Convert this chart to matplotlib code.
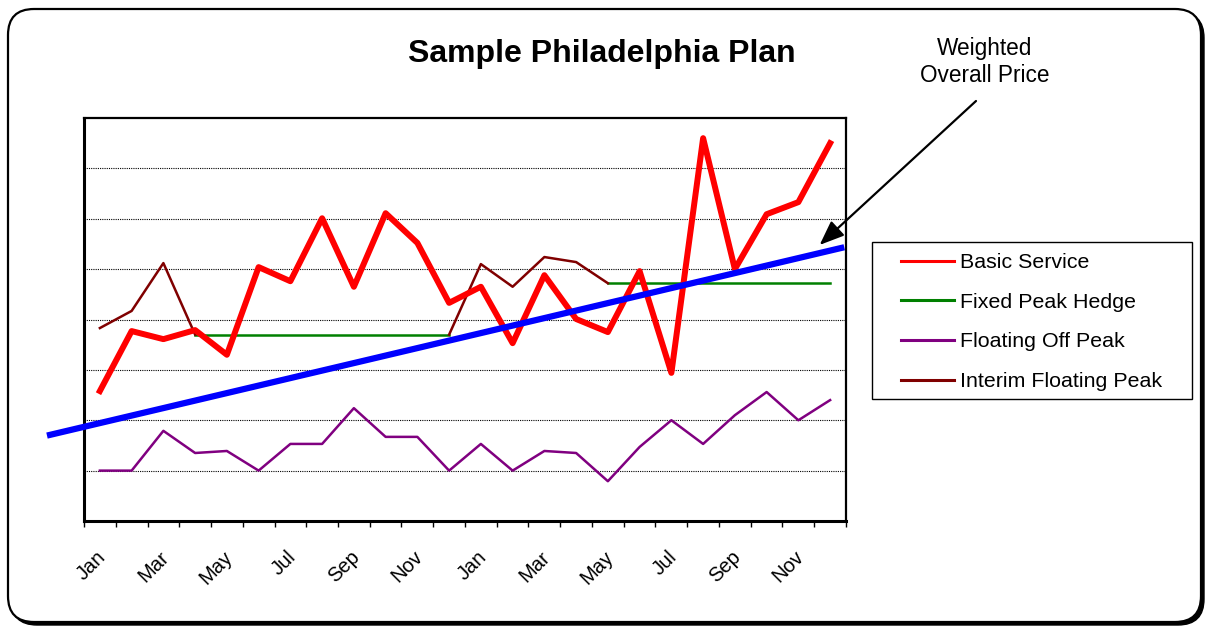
import numpy as np
import matplotlib
matplotlib.use("Agg")
import matplotlib.pyplot as plt
import matplotlib.transforms as mtransforms
from matplotlib.lines import Line2D
from matplotlib.patches import FancyBboxPatch, Rectangle

plt.rcParams["font.family"] = ["Liberation Sans", "DejaVu Sans"]

# 24 months, two years
months = ["Jan", "Feb", "Mar", "Apr", "May", "Jun",
          "Jul", "Aug", "Sep", "Oct", "Nov", "Dec"] * 2

basic_service = [2.58, 3.77, 3.61, 3.79, 3.30, 5.04, 4.76, 6.01, 4.65, 6.11, 5.52, 4.33,
                 4.65, 3.53, 4.88, 4.01, 3.75, 4.96, 2.94, 7.60, 5.00, 6.09, 6.33, 7.50]

# fixed hedge only runs Apr-Dec year 1 and Jun-Dec year 2
fixed_peak = [np.nan] * 3 + [3.70] * 9 + [np.nan] * 4 + [4.72] * 8

floating_off = [1.00, 1.00, 1.79, 1.35, 1.39, 1.00, 1.53, 1.53, 2.24, 1.67, 1.67, 1.00,
                1.53, 1.00, 1.39, 1.35, 0.79, 1.47, 2.00, 1.53, 2.10, 2.56, 2.00, 2.40]

interim_peak = [3.83, 4.17, 5.12, 3.70] + [np.nan] * 7 + [3.70, 5.10, 4.65, 5.24, 5.14, 4.72] + [np.nan] * 7

# weighted overall price trend (start / end)
weighted_x = [-1.57, 23.35]
weighted_price = [1.71, 5.42]

fig = plt.figure(figsize=(12.09, 6.3), dpi=100)

# rounded frame with a small shadow, pixel coords
bg = fig.add_axes([0, 0, 1, 1], zorder=-5)
bg.set_xlim(0, 1209)
bg.set_ylim(630, 0)
bg.axis("off")
bg.add_patch(FancyBboxPatch((11, 12), 1193, 613, boxstyle="round,pad=0,rounding_size=26",
                            fc="black", ec="black", lw=1))
bg.add_patch(FancyBboxPatch((8, 9), 1193, 613, boxstyle="round,pad=0,rounding_size=26",
                            fc="white", ec="black", lw=1.6))
# legend frame
bg.add_patch(Rectangle((872, 242), 320, 157, fc="white", ec="black", lw=1.0))

ax = fig.add_axes([84 / 1209, 1 - 521 / 630, 762 / 1209, 403 / 630])
x = np.arange(len(months))

ax.plot(x, basic_service, color="#FF0000", lw=4.3, zorder=4)
ax.plot(x, fixed_peak, color="#008000", lw=1.8, zorder=3)
ax.plot(x, floating_off, color="#800080", lw=1.8, zorder=3)
ax.plot(x, interim_peak, color="#800000", lw=1.8, zorder=3)
ax.plot(weighted_x, weighted_price, color="#0000FF", lw=4.5, clip_on=False, zorder=5)

ax.set_xlim(-0.5, 23.5)
ax.set_ylim(0, 8)
ax.set_yticks(range(1, 8))
ax.yaxis.grid(True, color="black", lw=0.8, linestyle=(0, (1, 1)))
ax.tick_params(axis="y", length=0, labelleft=False)

ax.set_xticks(x[::2])
ax.set_xticklabels(months[::2], rotation=45, ha="right", va="top",
                   rotation_mode="anchor", fontsize=14.5)
ax.set_xticks(np.arange(-0.5, 24, 1), minor=True)
ax.tick_params(axis="x", which="major", length=0, pad=19)
ax.tick_params(axis="x", which="minor", length=4.5, width=1, direction="out")
shift = mtransforms.ScaledTranslation(-4 / 100, 0, fig.dpi_scale_trans)
for lab in ax.get_xticklabels():
    lab.set_transform(lab.get_transform() + shift)

for s in ax.spines.values():
    s.set_linewidth(1.6)
ax.spines["left"].set_linewidth(2.2)
ax.spines["bottom"].set_linewidth(2.2)

fig.text(602 / 1209, 1 - 54 / 630, "Sample Philadelphia Plan", ha="center", va="center",
         fontsize=23, fontweight="bold")

fig.text(985 / 1209, 1 - 62 / 630, "Weighted\nOverall Price", ha="center", va="center",
         fontsize=16.3, linespacing=1.2)
ax.annotate("", xy=(22.67, 5.48), xycoords="data",
            xytext=(976 / 1209, 1 - 101 / 630), textcoords="figure fraction",
            arrowprops=dict(arrowstyle="-|>,head_length=1.0,head_width=0.4",
                            mutation_scale=15, color="black", lw=1.6,
                            shrinkA=0, shrinkB=0),
            annotation_clip=False, zorder=6)

handles = [Line2D([], [], color="#FF0000", lw=2.2),
           Line2D([], [], color="#008000", lw=2.2),
           Line2D([], [], color="#800080", lw=2.2),
           Line2D([], [], color="#800000", lw=2.2)]
labels = ["Basic Service", "Fixed Peak Hedge", "Floating Off Peak", "Interim Floating Peak"]
leg = fig.legend(handles, labels, loc="upper left",
                 bbox_to_anchor=(901 / 1209, 1 - 253 / 630), fontsize=15.4,
                 frameon=False, handlelength=2.5, handletextpad=0.28,
                 labelspacing=0.97, borderpad=0, borderaxespad=0)

fig.savefig("out.png", dpi=100)
